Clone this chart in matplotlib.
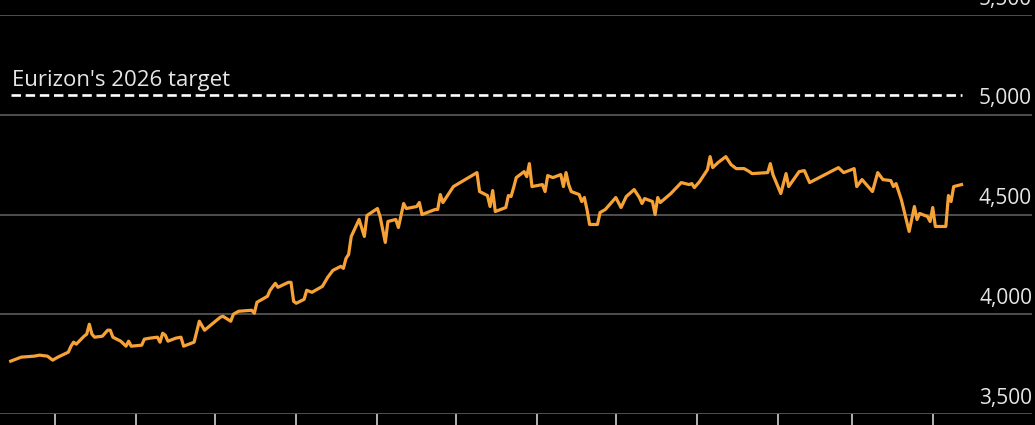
import datetime as dt
import matplotlib
matplotlib.use('Agg')
import matplotlib.pyplot as plt
import pandas as pd

# index level (trading-day turning points)
dates = ['2025-04-14', '2025-04-16', '2025-04-18', '2025-04-23', '2025-04-25', '2025-04-28',
         '2025-04-30', '2025-05-02', '2025-05-06', '2025-05-07', '2025-05-08', '2025-05-09',
         '2025-05-12', '2025-05-13', '2025-05-14', '2025-05-15', '2025-05-16', '2025-05-19',
         '2025-05-21', '2025-05-22', '2025-05-23', '2025-05-26', '2025-05-28', '2025-05-29',
         '2025-05-30', '2025-06-03', '2025-06-04', '2025-06-06', '2025-06-09', '2025-06-10',
         '2025-06-11', '2025-06-12', '2025-06-13', '2025-06-16', '2025-06-18', '2025-06-19',
         '2025-06-23', '2025-06-25', '2025-06-27', '2025-07-03', '2025-07-04', '2025-07-07',
         '2025-07-08', '2025-07-10', '2025-07-15', '2025-07-16', '2025-07-17', '2025-07-21',
         '2025-07-22', '2025-07-24', '2025-07-25', '2025-07-29', '2025-07-30', '2025-07-31',
         '2025-08-01', '2025-08-04', '2025-08-05', '2025-08-07', '2025-08-11', '2025-08-13',
         '2025-08-15', '2025-08-18', '2025-08-19', '2025-08-20', '2025-08-21', '2025-08-22',
         '2025-08-25', '2025-08-27', '2025-08-28', '2025-09-01', '2025-09-02', '2025-09-04',
         '2025-09-05', '2025-09-08', '2025-09-09', '2025-09-11', '2025-09-12', '2025-09-16',
         '2025-09-17', '2025-09-18', '2025-09-23', '2025-09-24', '2025-09-25', '2025-09-26',
         '2025-09-30', '2025-10-09', '2025-10-10', '2025-10-13', '2025-10-14', '2025-10-15',
         '2025-10-16', '2025-10-20', '2025-10-21', '2025-10-22', '2025-10-23', '2025-10-24',
         '2025-10-27', '2025-10-28', '2025-10-29', '2025-10-30', '2025-11-03', '2025-11-04',
         '2025-11-05', '2025-11-07', '2025-11-10', '2025-11-11', '2025-11-12', '2025-11-13',
         '2025-11-14', '2025-11-17', '2025-11-18', '2025-11-19', '2025-11-20', '2025-11-21',
         '2025-11-24', '2025-11-25', '2025-11-27', '2025-12-01', '2025-12-03', '2025-12-05',
         '2025-12-08', '2025-12-10', '2025-12-11', '2025-12-12', '2025-12-15', '2025-12-16',
         '2025-12-17', '2025-12-18', '2025-12-22', '2025-12-26', '2025-12-29', '2025-12-30',
         '2025-12-31', '2026-01-02', '2026-01-05', '2026-01-06', '2026-01-07', '2026-01-09',
         '2026-01-12', '2026-01-14', '2026-01-15', '2026-01-16', '2026-01-19', '2026-01-21',
         '2026-01-22', '2026-01-28', '2026-01-29', '2026-01-30', '2026-02-02', '2026-02-04',
         '2026-02-05', '2026-02-09', '2026-02-11', '2026-02-13', '2026-02-24', '2026-02-26',
         '2026-03-02', '2026-03-03', '2026-03-05', '2026-03-09', '2026-03-11', '2026-03-13',
         '2026-03-16', '2026-03-17', '2026-03-18', '2026-03-20', '2026-03-23', '2026-03-25',
         '2026-03-26', '2026-03-27', '2026-03-30', '2026-03-31', '2026-04-01', '2026-04-02',
         '2026-04-06', '2026-04-07', '2026-04-08', '2026-04-09', '2026-04-12']
values = [3765, 3775, 3785, 3790, 3795, 3790,
          3770, 3785, 3810, 3840, 3860, 3850,
          3890, 3900, 3950, 3900, 3885, 3890,
          3920, 3920, 3885, 3865, 3840, 3865,
          3840, 3845, 3875, 3880, 3885, 3860,
          3905, 3895, 3865, 3880, 3885, 3840,
          3860, 3965, 3920, 3985, 3990, 3965,
          4000, 4015, 4020, 4005, 4060, 4090,
          4120, 4155, 4135, 4160, 4160, 4065,
          4055, 4075, 4120, 4110, 4140, 4185,
          4220, 4240, 4230, 4280, 4300, 4390,
          4475, 4390, 4495, 4530, 4490, 4360,
          4465, 4475, 4435, 4555, 4530, 4540,
          4560, 4500, 4525, 4525, 4600, 4560,
          4640, 4710, 4615, 4595, 4540, 4620,
          4515, 4535, 4595, 4590, 4635, 4685,
          4715, 4690, 4755, 4640, 4650, 4615,
          4695, 4685, 4700, 4640, 4710, 4650,
          4615, 4600, 4565, 4585, 4525, 4450,
          4450, 4510, 4525, 4585, 4535, 4590,
          4625, 4585, 4555, 4580, 4565, 4500,
          4585, 4560, 4605, 4660, 4650, 4655,
          4635, 4665, 4725, 4790, 4735, 4760,
          4790, 4750, 4740, 4730, 4730, 4715,
          4705, 4710, 4755, 4700, 4605, 4705,
          4640, 4715, 4720, 4660, 4735, 4710,
          4730, 4640, 4675, 4615, 4710, 4675,
          4670, 4640, 4655, 4575, 4415, 4540,
          4475, 4505, 4490, 4465, 4535, 4440,
          4440, 4595, 4565, 4640, 4650]

target = 5100
target_label = "Eurizon's 2026 target"
y_ticks = [3500, 4000, 4500, 5000, 5500]

x = pd.to_datetime(dates)

plt.rcParams['font.family'] = ['Open Sans', 'DejaVu Sans']
plt.rcParams['lines.scale_dashes'] = False

fig = plt.figure(figsize=(10.35, 4.25), dpi=100, facecolor='black')
ax = fig.add_axes([0, 11 / 425, 1032 / 1035, 399 / 425])
ax.set_facecolor('black')

ax.plot(x, values, color='#f7a236', lw=2.3, solid_joinstyle='round', zorder=3)

ax.plot([x[0], x[-1]], [target, target], color='white', lw=1.9,
        dashes=(6.8, 3.4), dash_capstyle='butt', zorder=3)
ax.annotate(target_label, xy=(x[0], target), xytext=(1, 6), textcoords='offset points',
            ha='left', va='baseline', color='#e6e6e6', fontsize=16)

ax.set_ylim(3500, 5500)
ax.set_yticks(y_ticks)
ax.yaxis.grid(True, color='#5c5c5c', lw=1.2)
ax.tick_params(axis='y', length=0, labelleft=False)
for v in y_ticks:
    ax.annotate(f'{v:,}', xy=(1, v), xycoords=('axes fraction', 'data'),
                xytext=(0, 7.5), textcoords='offset points',
                ha='right', va='baseline', color='#e6e6e6', fontsize=15)

start = x[0] - dt.timedelta(days=4.1)
ax.set_xlim(start, start + dt.timedelta(days=394))
# monthly ticks only across the span of the data
ax.set_xticks(pd.date_range(x[0], x[-1], freq='MS'))
ax.tick_params(axis='x', direction='out', length=12, width=1.2, color='#d0d0d0',
               labelbottom=False)

for s in ax.spines.values():
    s.set_visible(False)

fig.savefig('out.png', dpi=100, facecolor='black')
